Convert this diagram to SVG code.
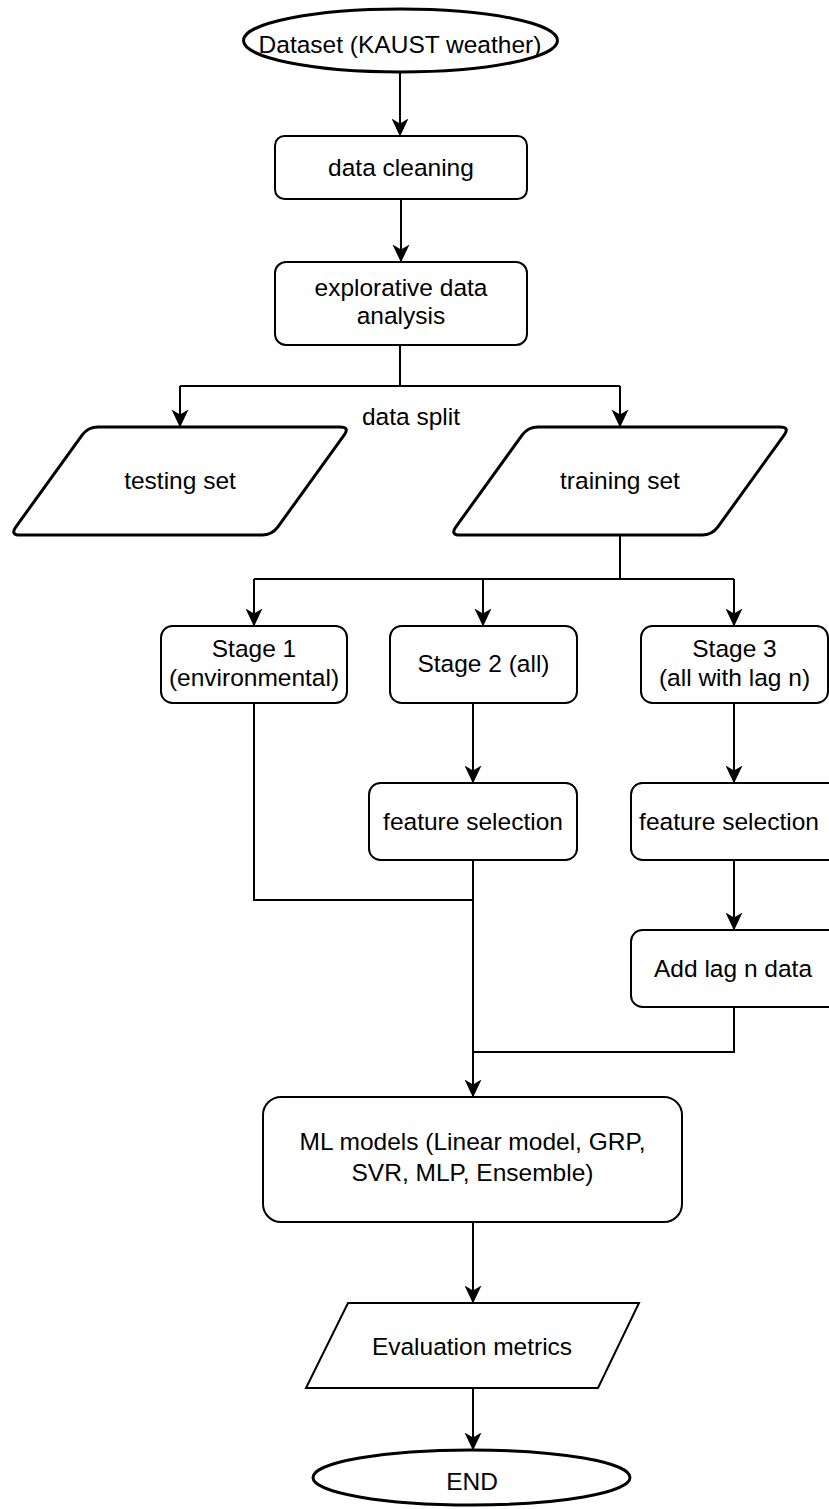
<svg xmlns="http://www.w3.org/2000/svg" width="829" height="1509" viewBox="0 0 829 1509">
<defs>
<marker id="arr" markerUnits="userSpaceOnUse" markerWidth="18" markerHeight="18" viewBox="0 0 18 18" refX="17.5" refY="9" orient="auto">
<path d="M0,0.5 L18,9 L0,17.5 L5,9 Z" fill="#000"/>
</marker>
</defs>
<style>
text{font-family:"Liberation Sans",Arial,Helvetica,sans-serif;font-size:24.5px;fill:#000;text-anchor:middle}
.box{fill:#fff;stroke:#000;stroke-width:2}
.thick{fill:#fff;stroke:#000;stroke-width:3}
.conn{fill:none;stroke:#000;stroke-width:2}
</style>
<rect width="829" height="1509" fill="#fff"/>
<g id="connectors">
<path class="conn" d="M400,72 V136" marker-end="url(#arr)"/>
<path class="conn" d="M401,199 V262" marker-end="url(#arr)"/>
<path class="conn" d="M400,345 V386"/>
<path class="conn" d="M180,386 H620"/>
<path class="conn" d="M180,386 V427" marker-end="url(#arr)"/>
<path class="conn" d="M620,386 V427" marker-end="url(#arr)"/>
<path class="conn" d="M620,535 V579"/>
<path class="conn" d="M254,579 H734"/>
<path class="conn" d="M254,579 V626" marker-end="url(#arr)"/>
<path class="conn" d="M483,579 V626" marker-end="url(#arr)"/>
<path class="conn" d="M734,579 V626" marker-end="url(#arr)"/>
<path class="conn" d="M254,703 V900 H473"/>
<path class="conn" d="M473,703 V783" marker-end="url(#arr)"/>
<path class="conn" d="M473,860 V1097" marker-end="url(#arr)"/>
<path class="conn" d="M734,703 V783" marker-end="url(#arr)"/>
<path class="conn" d="M734,860 V930" marker-end="url(#arr)"/>
<path class="conn" d="M734,1007 V1052 H473"/>
<path class="conn" d="M473,1222 V1303" marker-end="url(#arr)"/>
<path class="conn" d="M473,1388 V1450" marker-end="url(#arr)"/>
</g>
<g id="n-dataset">
<ellipse class="thick" cx="400.5" cy="40.5" rx="157" ry="31.5"/>
<text x="400" y="53">Dataset (KAUST weather)</text>
</g>
<g id="n-cleaning">
<rect class="box" x="275" y="136" width="252" height="63" rx="9.5"/>
<text x="401" y="176">data cleaning</text>
</g>
<g id="n-eda">
<rect class="box" x="275" y="262" width="252" height="83" rx="11"/>
<text x="401" y="296">explorative data</text>
<text x="401" y="324">analysis</text>
</g>
<g id="l-split">
<text x="411" y="425">data split</text>
</g>
<g id="n-testing">
<path class="thick" d="M98,427 L340,427 Q350,427 344.1,435.1 L277.9,526.9 Q272,535 262,535 L20,535 Q10,535 15.9,526.9 L82.1,435.1 Q88,427 98,427 Z"/>
<text x="180" y="489">testing set</text>
</g>
<g id="n-training">
<path class="thick" d="M538,427 L780,427 Q790,427 784.1,435.1 L717.9,526.9 Q712,535 702,535 L460,535 Q450,535 455.9,526.9 L522.1,435.1 Q528,427 538,427 Z"/>
<text x="620" y="489">training set</text>
</g>
<g id="n-stage1">
<rect class="box" x="161" y="626" width="186" height="77" rx="11.5"/>
<text x="254" y="657">Stage 1</text>
<text x="254" y="686">(environmental)</text>
</g>
<g id="n-stage2">
<rect class="box" x="390" y="626" width="187" height="77" rx="11.5"/>
<text x="483.5" y="672">Stage 2 (all)</text>
</g>
<g id="n-stage3">
<rect class="box" x="641" y="626" width="187" height="77" rx="11.5"/>
<text x="734.5" y="657">Stage 3</text>
<text x="734.5" y="686">(all with lag n)</text>
</g>
<g id="n-fs2">
<rect class="box" x="369" y="783" width="208" height="77" rx="11.5"/>
<text x="473" y="830">feature selection</text>
</g>
<g id="n-fs3">
<rect class="box" x="631" y="783" width="208" height="77" rx="11.5"/>
<text x="729" y="830">feature selection</text>
</g>
<g id="n-lag">
<rect class="box" x="631" y="930" width="208" height="77" rx="11.5"/>
<text x="733" y="977">Add lag n data</text>
</g>
<g id="n-ml">
<rect class="box" x="263" y="1097" width="419" height="125" rx="18"/>
<text x="472.5" y="1150">ML models (Linear model, GRP,</text>
<text x="472.5" y="1181">SVR, MLP, Ensemble)</text>
</g>
<g id="n-eval">
<path class="box" d="M348,1303 L639,1303 L598,1388 L306,1388 Z"/>
<text x="472" y="1355">Evaluation metrics</text>
</g>
<g id="n-end">
<ellipse class="thick" cx="471.5" cy="1477.5" rx="158.5" ry="27.5"/>
<text x="472" y="1490">END</text>
</g>
</svg>
